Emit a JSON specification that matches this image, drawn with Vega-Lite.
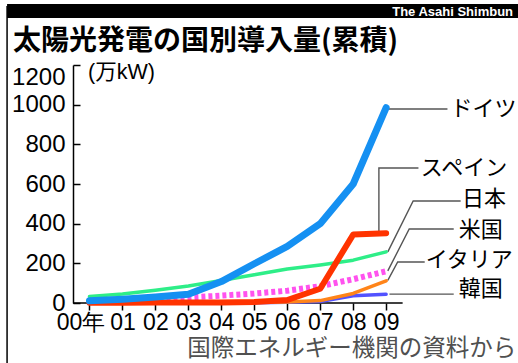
{
  "$schema": "https://vega.github.io/schema/vega-lite/v6.json",
  "width": 445,
  "height": 238,
  "autosize": {"type": "none"},
  "padding": {"left": 73, "top": 65, "right": 0, "bottom": 60},
  "background": "white",
  "config": {"view": {"stroke": null}},
  "datasets": {
    "series": [
      {"country": "ドイツ", "x": 2000, "y": 11}, {"country": "ドイツ", "x": 2001, "y": 19}, {"country": "ドイツ", "x": 2002, "y": 30}, {"country": "ドイツ", "x": 2003, "y": 44}, {"country": "ドイツ", "x": 2004, "y": 108}, {"country": "ドイツ", "x": 2005, "y": 198}, {"country": "ドイツ", "x": 2006, "y": 285}, {"country": "ドイツ", "x": 2007, "y": 400}, {"country": "ドイツ", "x": 2008, "y": 600}, {"country": "ドイツ", "x": 2009, "y": 985},
      {"country": "スペイン", "x": 2000, "y": 1}, {"country": "スペイン", "x": 2001, "y": 1}, {"country": "スペイン", "x": 2002, "y": 2}, {"country": "スペイン", "x": 2003, "y": 3}, {"country": "スペイン", "x": 2004, "y": 2}, {"country": "スペイン", "x": 2005, "y": 5}, {"country": "スペイン", "x": 2006, "y": 15}, {"country": "スペイン", "x": 2007, "y": 72}, {"country": "スペイン", "x": 2008, "y": 345}, {"country": "スペイン", "x": 2009, "y": 352},
      {"country": "日本", "x": 2000, "y": 33}, {"country": "日本", "x": 2001, "y": 45}, {"country": "日本", "x": 2002, "y": 64}, {"country": "日本", "x": 2003, "y": 86}, {"country": "日本", "x": 2004, "y": 113}, {"country": "日本", "x": 2005, "y": 142}, {"country": "日本", "x": 2006, "y": 171}, {"country": "日本", "x": 2007, "y": 192}, {"country": "日本", "x": 2008, "y": 216}, {"country": "日本", "x": 2009, "y": 258},
      {"country": "米国", "x": 2000, "y": 14}, {"country": "米国", "x": 2001, "y": 17}, {"country": "米国", "x": 2002, "y": 21}, {"country": "米国", "x": 2003, "y": 28}, {"country": "米国", "x": 2004, "y": 37}, {"country": "米国", "x": 2005, "y": 48}, {"country": "米国", "x": 2006, "y": 62}, {"country": "米国", "x": 2007, "y": 85}, {"country": "米国", "x": 2008, "y": 120}, {"country": "米国", "x": 2009, "y": 160},
      {"country": "イタリア", "x": 2000, "y": 2}, {"country": "イタリア", "x": 2001, "y": 2}, {"country": "イタリア", "x": 2002, "y": 2}, {"country": "イタリア", "x": 2003, "y": 3}, {"country": "イタリア", "x": 2004, "y": 3}, {"country": "イタリア", "x": 2005, "y": 4}, {"country": "イタリア", "x": 2006, "y": 5}, {"country": "イタリア", "x": 2007, "y": 12}, {"country": "イタリア", "x": 2008, "y": 48}, {"country": "イタリア", "x": 2009, "y": 112},
      {"country": "韓国", "x": 2000, "y": 0.4}, {"country": "韓国", "x": 2001, "y": 0.5}, {"country": "韓国", "x": 2002, "y": 0.5}, {"country": "韓国", "x": 2003, "y": 0.6}, {"country": "韓国", "x": 2004, "y": 0.9}, {"country": "韓国", "x": 2005, "y": 1.4}, {"country": "韓国", "x": 2006, "y": 3.6}, {"country": "韓国", "x": 2007, "y": 8}, {"country": "韓国", "x": 2008, "y": 36}, {"country": "韓国", "x": 2009, "y": 44}
    ],
    "leaders": [
      {"country": "ドイツ", "seq": 1, "x": 2009.05, "y": 978}, {"country": "ドイツ", "seq": 2, "x": 2010.86, "y": 978},
      {"country": "スペイン", "seq": 1, "x": 2008.78, "y": 352}, {"country": "スペイン", "seq": 2, "x": 2008.78, "y": 681}, {"country": "スペイン", "seq": 3, "x": 2009.98, "y": 681},
      {"country": "日本", "seq": 1, "x": 2009.05, "y": 258}, {"country": "日本", "seq": 2, "x": 2009.82, "y": 514}, {"country": "日本", "seq": 3, "x": 2011.26, "y": 514},
      {"country": "米国", "seq": 1, "x": 2009.05, "y": 162}, {"country": "米国", "seq": 2, "x": 2009.7, "y": 373}, {"country": "米国", "seq": 3, "x": 2011.05, "y": 373},
      {"country": "イタリア", "seq": 1, "x": 2009.05, "y": 114}, {"country": "イタリア", "seq": 2, "x": 2009.35, "y": 207}, {"country": "イタリア", "seq": 3, "x": 2010.17, "y": 207},
      {"country": "韓国", "seq": 1, "x": 2009.1, "y": 45}, {"country": "韓国", "seq": 2, "x": 2011.05, "y": 45}
    ],
    "labels": [
      {"country": "ドイツ", "x": 2010.95, "y": 978},
      {"country": "スペイン", "x": 2010.05, "y": 681},
      {"country": "日本", "x": 2011.3, "y": 525},
      {"country": "米国", "x": 2011.2, "y": 368},
      {"country": "イタリア", "x": 2010.2, "y": 217},
      {"country": "韓国", "x": 2011.2, "y": 71}
    ]
  },
  "encoding": {
    "x": {"field": "x", "type": "quantitative", "scale": {"domain": [1999.5, 2013], "nice": false, "zero": false},
      "axis": {"values": [2000, 2001, 2002, 2003, 2004, 2005, 2006, 2007, 2008, 2009], "labelExpr": "datum.value == 2000 ? '00年' : substring(toString(datum.value), 2)", "labelOffset": {"condition": {"test": "datum.value == 2000", "value": -9}, "value": 0}, "domain": false, "grid": false, "title": null, "ticks": true, "tickSize": 7, "tickWidth": 1.5, "tickColor": "black", "labelFont": "Liberation Sans", "labelFontSize": 23, "labelColor": "black", "labelPadding": 1, "labelFlush": false, "labelOverlap": false}},
    "y": {"field": "y", "type": "quantitative", "scale": {"domain": [0, 1200], "nice": false},
      "axis": {"values": [0, 200, 400, 600, 800, 1000, 1200], "format": "d", "domain": true, "domainColor": "black", "domainWidth": 1.5, "grid": false, "title": null, "ticks": true, "tickSize": -7, "tickWidth": 1.5, "tickColor": "black", "labelFont": "Liberation Sans", "labelFontSize": 24, "labelColor": "black", "labelPadding": 15, "labelOverlap": false, "labelFlush": false, "labelBaseline": {"condition": {"test": "datum.value == 1200", "value": "top"}, "value": "middle"}}}
  },
  "layer": [
    {
      "data": {"values": [{"x": 1997.5, "x2": 2014, "y": 1507, "y2": 1437}]},
      "mark": {"type": "rect", "color": "black", "clip": false},
      "encoding": {"x2": {"field": "x2"}, "y2": {"field": "y2"}}
    },
    {
      "data": {"values": [{"x": 2012.85, "y": 1468}]},
      "mark": {"type": "text", "color": "white", "font": "Liberation Sans", "fontWeight": "bold", "fontSize": 13, "align": "right", "baseline": "middle", "text": "The Asahi Shimbun"}
    },
    {
      "data": {"values": [{"x": 1997.5, "y": 1497, "y2": -330}]},
      "mark": {"type": "rule", "color": "black", "strokeWidth": 1.5},
      "encoding": {"y2": {"field": "y2"}}
    },
    {
      "data": {"values": [{"x": 1997.68, "y": 1316}]},
      "mark": {"type": "text", "color": "black", "font": "Noto Sans CJK JP", "fontWeight": "bold", "fontSize": 28, "align": "left", "baseline": "middle", "text": "太陽光発電の国別導入量(累積)"}
    },
    {
      "data": {"values": [{"x": 1999.955, "y": 1160}]},
      "mark": {"type": "text", "color": "black", "font": "Liberation Sans, Noto Sans CJK JP", "fontSize": 21.5, "align": "left", "baseline": "middle", "text": "(万kW)"}
    },
    {
      "data": {"values": [{"x": 2012.95, "y": -232}]},
      "mark": {"type": "text", "color": "#505050", "font": "Noto Sans CJK JP", "fontSize": 23.5, "align": "right", "baseline": "middle", "text": "国際エネルギー機関の資料から"}
    },
    {
      "data": {"values": [{"x": 1999.5, "x2": 2009.5, "y": 0}]},
      "mark": {"type": "rule", "color": "black", "strokeWidth": 1.5},
      "encoding": {"x2": {"field": "x2"}}
    },
    {
      "data": {"name": "leaders"},
      "mark": {"type": "line", "color": "#555555", "strokeWidth": 1.4},
      "encoding": {"detail": {"field": "country"}, "order": {"field": "seq"}}
    },
    {
      "data": {"name": "labels"},
      "mark": {"type": "text", "color": "black", "font": "Noto Sans CJK JP", "fontSize": 22, "align": "left", "baseline": "middle"},
      "encoding": {"text": {"field": "country"}}
    },
    {
      "data": {"name": "series"},
      "transform": [{"filter": "datum.country === '韓国'"}],
      "mark": {"type": "line", "color": "#5252ff", "strokeWidth": 3.5, "strokeCap": "round", "strokeJoin": "round"}
    },
    {
      "data": {"name": "series"},
      "transform": [{"filter": "datum.country === 'イタリア'"}],
      "mark": {"type": "line", "color": "#ff8419", "strokeWidth": 3.5, "strokeCap": "round", "strokeJoin": "round"}
    },
    {
      "data": {"name": "series"},
      "transform": [{"filter": "datum.country === '米国'"}],
      "mark": {"type": "line", "color": "#ff52ee", "strokeWidth": 6, "strokeDash": [4, 3]}
    },
    {
      "data": {"name": "series"},
      "transform": [{"filter": "datum.country === '日本'"}],
      "mark": {"type": "line", "color": "#2eee88", "strokeWidth": 3.5, "strokeCap": "round", "strokeJoin": "round"}
    },
    {
      "data": {"name": "series"},
      "transform": [{"filter": "datum.country === 'スペイン'"}],
      "mark": {"type": "line", "color": "#ff3300", "strokeWidth": 6, "strokeCap": "round", "strokeJoin": "round"}
    },
    {
      "data": {"name": "series"},
      "transform": [{"filter": "datum.country === 'ドイツ'"}],
      "mark": {"type": "line", "color": "#1590f2", "strokeWidth": 7, "strokeCap": "round", "strokeJoin": "round"}
    }
  ]
}
